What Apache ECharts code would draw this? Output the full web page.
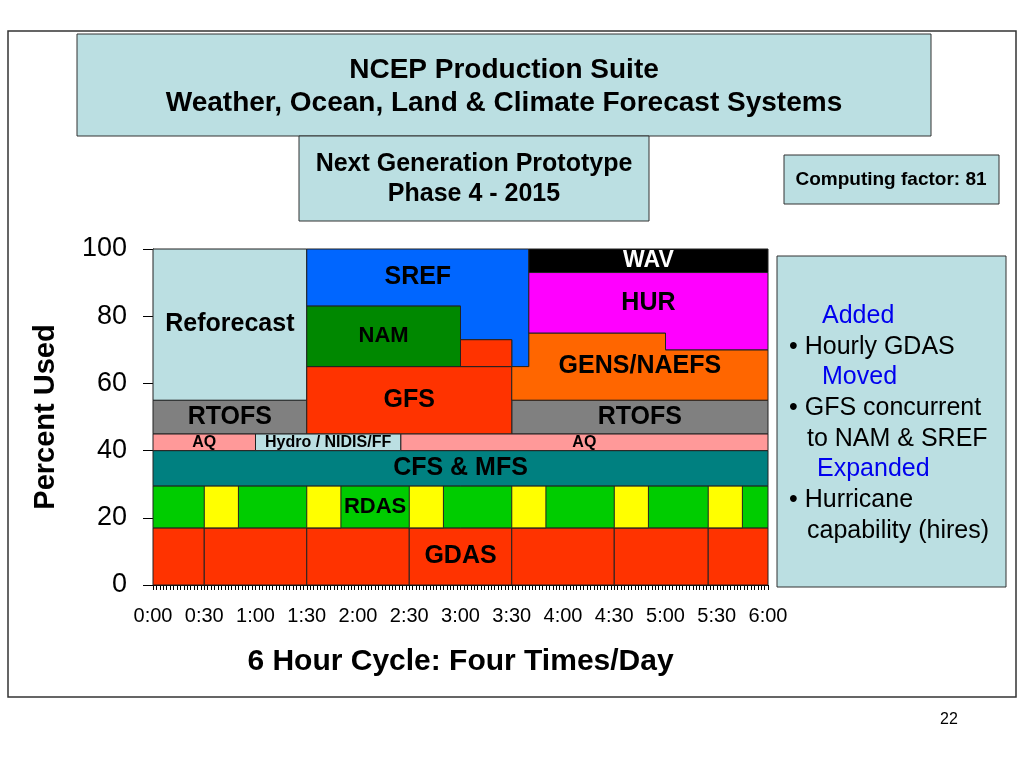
<!DOCTYPE html>
<html>
<head>
<meta charset="utf-8">
<script src="https://cdn.jsdelivr.net/npm/echarts@6/dist/echarts.min.js"></script>
<style>
html,body{margin:0;padding:0;background:#fff;}
#chart{width:1024px;height:768px;}
</style>
</head>
<body>
<div id="chart"></div>
<script>
// ---------- data (minutes into the 6-hour cycle, percent used) ----------
const xTickLabels = ['0:00','0:30','1:00','1:30','2:00','2:30','3:00','3:30','4:00','4:30','5:00','5:30','6:00'];
const gdasRuns = [[0,30],[30,90],[90,150],[150,210],[210,270],[270,325],[325,360]];
const gdasLevel = [0, 17];
const rdasLevel = [17, 29.5];
const rdasYellowRuns = [[30,50],[90,110],[150,170],[210,230],[270,290],[325,345]];
const cfsLevel = [29.5, 40];
const aqLevel = [40, 45];
const aqRuns = [[0,60],[145,360]];
const hydroRun = [60,145];
const rtofsLevel = [45,55];
const rtofsRuns = [[0,90],[210,360]];
const reforecastBlock = [0,90,55,100];
const gfsBlocks = [[90,210,45,65],[180,210,65,73]];
const namBlock = [90,180,65,83];
const srefOutline = [[90,83],[90,100],[220,100],[220,65],[210,65],[210,73],[180,73],[180,83]];
const srefLabelBox = [90,220,83,100];
const gensOutline = [[210,55],[210,65],[220,65],[220,75],[300,75],[300,70],[360,70],[360,55]];
const gensLabelBox = [210,360,55,75];
const hurOutline = [[220,75],[220,93],[360,93],[360,70],[300,70],[300,75]];
const hurLabelBox = [220,360,75,93];
const wavBlock = [220,360,93,100];

const notesLines = [
  {t:'Added', kind:'head'},
  {t:'\u2022 Hourly GDAS', kind:'bullet'},
  {t:'Moved', kind:'head'},
  {t:'\u2022 GFS concurrent', kind:'bullet'},
  {t:'to NAM & SREF', kind:'cont'},
  {t:'Expanded', kind:'head'},
  {t:'\u2022 Hurricane', kind:'bullet'},
  {t:'capability (hires)', kind:'cont'}
];

// ---------- styles ----------
const FONT = '"Liberation Sans", Arial, Helvetica, sans-serif';
const colors = {
  GDAS:'#ff3300', RDAS:'#00cc00', RDASy:'#ffff00', CFS:'#008080', AQ:'#ff9999',
  Hydro:'#bbdfe2', RTOFS:'#808080', Reforecast:'#bbdfe2', GFS:'#ff3300',
  NAM:'#008800', SREF:'#0066ff', GENS:'#ff6600', HUR:'#ff00ff', WAV:'#000000'
};
const boxFill = '#bbdfe2';

// ---------- build shapes ----------
function rectPoly(x0,x1,y0,y1){ return [[x0,y0],[x0,y1],[x1,y1],[x1,y0]]; }
function center(b){ return [(b[0]+b[1])/2,(b[2]+b[3])/2]; }
const shapes = [];
function add(poly, color, label, labelAt, fontSize, textColor){
  shapes.push({poly, color, label, labelAt, fontSize, textColor: textColor || '#000'});
}
gdasRuns.forEach((r,i)=>{
  const b=[r[0],r[1],gdasLevel[0],gdasLevel[1]];
  add(rectPoly(...b), colors.GDAS, i===3?'GDAS':null, center(b), 25);
});
add(rectPoly(0,360,rdasLevel[0],rdasLevel[1]), colors.RDAS, 'RDAS',
    [(rdasYellowRuns[1][1]+rdasYellowRuns[2][0])/2,(rdasLevel[0]+rdasLevel[1])/2], 22);
rdasYellowRuns.forEach(r=>add(rectPoly(r[0],r[1],rdasLevel[0],rdasLevel[1]), colors.RDASy));
add(rectPoly(0,360,cfsLevel[0],cfsLevel[1]), colors.CFS, 'CFS & MFS', center([0,360,cfsLevel[0],cfsLevel[1]]), 25);
aqRuns.forEach(r=>{
  const b=[r[0],r[1],aqLevel[0],aqLevel[1]];
  add(rectPoly(...b), colors.AQ, 'AQ', center(b), 16);
});
add(rectPoly(hydroRun[0],hydroRun[1],aqLevel[0],aqLevel[1]), colors.Hydro, 'Hydro / NIDIS/FF',
    center([hydroRun[0],hydroRun[1],aqLevel[0],aqLevel[1]]), 16);
rtofsRuns.forEach(r=>{
  const b=[r[0],r[1],rtofsLevel[0],rtofsLevel[1]];
  add(rectPoly(...b), colors.RTOFS, 'RTOFS', center(b), 25);
});
add(rectPoly(...reforecastBlock), colors.Reforecast, 'Reforecast', center(reforecastBlock), 25);
add(srefOutline, colors.SREF, 'SREF', center(srefLabelBox), 25);
gfsBlocks.forEach((b,i)=>add(rectPoly(...b), colors.GFS, i===0?'GFS':null, center(b), 25));
add(rectPoly(...namBlock), colors.NAM, 'NAM', center(namBlock), 22);
add(gensOutline, colors.GENS, 'GENS/NAEFS', center(gensLabelBox), 25);
add(hurOutline, colors.HUR, 'HUR', center(hurLabelBox), 25);
add(rectPoly(...wavBlock), colors.WAV, 'WAV', center(wavBlock), 23, '#ffffff');

// ---------- chart ----------
const chart = echarts.init(document.getElementById('chart'), null, {renderer:'canvas'});

function boxGraphic(x,y,w,h){
  return {type:'rect', shape:{x,y,width:w,height:h}, style:{fill:boxFill, stroke:'#333', lineWidth:1}, z:1};
}
function textGraphic(text,x,y,size,bold,color,align){
  return {type:'text', x, y, z:2, style:{text, fill:color||'#000', font:(bold?'bold ':'')+size+'px '+FONT,
    align:align||'center', verticalAlign:'middle'}};
}
const graphics = [
  {type:'rect', shape:{x:8,y:31,width:1008,height:666}, style:{fill:'none', stroke:'#333', lineWidth:1.5}, z:0},
  boxGraphic(77,34,854,102),
  textGraphic('NCEP Production Suite',504,70,28,true),
  textGraphic('Weather, Ocean, Land & Climate Forecast Systems',504,103,28,true),
  boxGraphic(299,136,350,85),
  textGraphic('Next Generation Prototype',474,164,25,true),
  textGraphic('Phase 4 - 2015',474,194,25,true),
  boxGraphic(784,155,215,49),
  textGraphic('Computing factor: 81',891,180,19,true),
  boxGraphic(777,256,229,331),
  textGraphic('22',949,720,16,false)
];
notesLines.forEach((l,i)=>{
  const x = l.kind==='head' ? (l.t==='Expanded'?817:822) : (l.kind==='bullet'?789:807);
  graphics.push(textGraphic(l.t, x, 316+i*30.7, 25, false, l.kind==='head'?'#0000ee':'#000', 'left'));
});

const option = {
  animation:false,
  backgroundColor:'#ffffff',
  grid:{left:153, right:256, top:249, bottom:183, containLabel:false},
  xAxis:{
    type:'value', min:0, max:360, interval:30,
    name:'6 Hour Cycle: Four Times/Day', nameLocation:'middle', nameGap:62,
    nameTextStyle:{fontFamily:FONT, fontWeight:'bold', fontSize:30, color:'#000'},
    axisLine:{show:true, lineStyle:{color:'#000', width:1}},
    axisTick:{show:true, length:5, lineStyle:{color:'#000'}},
    minorTick:{show:true, splitNumber:15, length:5, lineStyle:{color:'#000'}},
    splitLine:{show:false},
    axisLabel:{fontFamily:FONT, fontSize:20, color:'#000', margin:21,
      formatter:(v)=>xTickLabels[Math.round(v/30)]}
  },
  yAxis:{
    type:'value', min:0, max:100, interval:20,
    name:'Percent Used', nameLocation:'middle', nameGap:93, nameRotate:90,
    nameTextStyle:{fontFamily:FONT, fontWeight:'bold', fontSize:29, color:'#000'},
    axisLine:{show:true, lineStyle:{color:'#000', width:1}},
    axisTick:{show:true, length:10, lineStyle:{color:'#000'}},
    splitLine:{show:false},
    axisLabel:{fontFamily:FONT, fontSize:27, color:'#000', margin:26}
  },
  graphic: graphics,
  series:[{
    type:'custom',
    coordinateSystem:'cartesian2d',
    data: shapes.map((s,i)=>[i]),
    encode:{x:-1, y:-1},
    renderItem:(params, api)=>{
      const s = shapes[api.value(0)];
      const pts = s.poly.map(p=>api.coord(p));
      const children = [{type:'polygon', shape:{points:pts},
        style:{fill:s.color, stroke:'#222', lineWidth:1}}];
      if (s.label){
        const c = api.coord(s.labelAt);
        children.push({type:'text', style:{text:s.label, x:c[0], y:c[1], align:'center', verticalAlign:'middle',
          fill:s.textColor, font:'bold '+s.fontSize+'px '+FONT}});
      }
      return {type:'group', children};
    }
  }]
};
chart.setOption(option);
</script>
</body>
</html>
